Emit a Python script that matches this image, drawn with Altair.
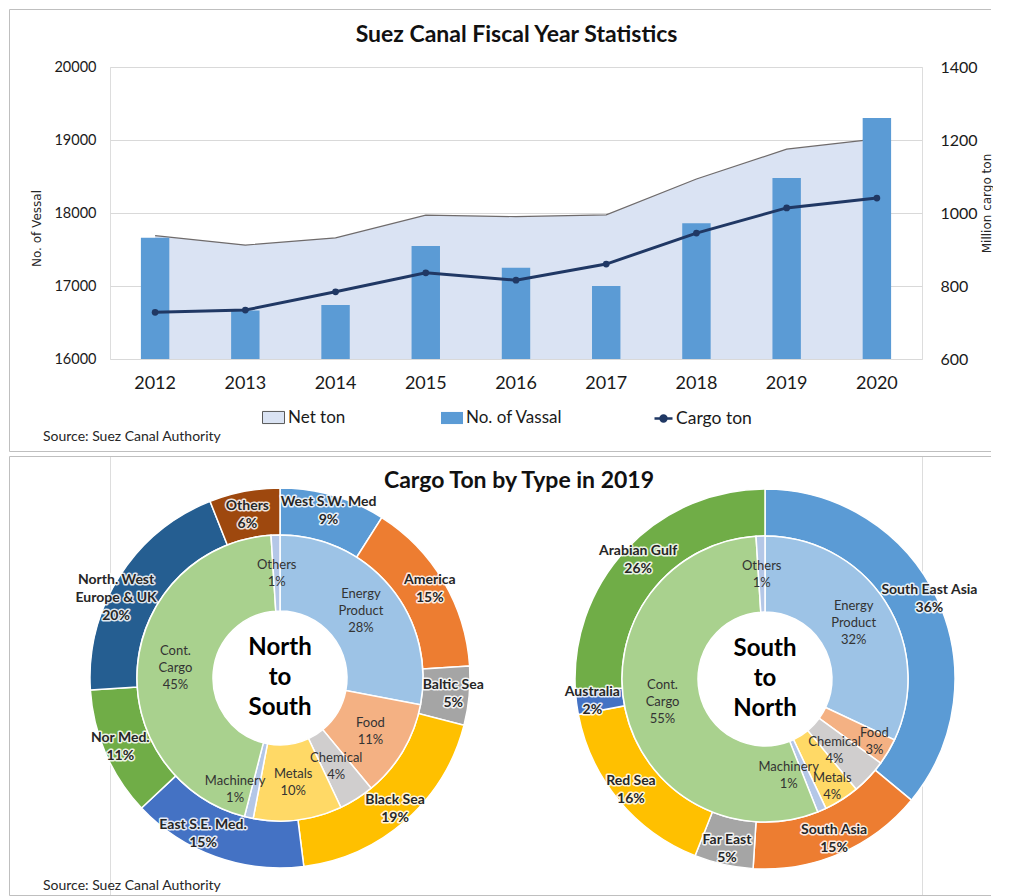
import altair as alt
import pandas as pd

# ---------------- data ----------------
years = ["2012", "2013", "2014", "2015", "2016", "2017", "2018", "2019", "2020"]
vessels = [17662, 16665, 16740, 17548, 17250, 17000, 17860, 18480, 19300]
cargo_ton = [728, 734, 784, 836, 816, 860, 945, 1014, 1041]
net_ton = [938, 912, 932, 994, 990, 995, 1093, 1175, 1203]

ns_region_names = ["West S.W. Med", "America", "Baltic Sea", "Black Sea", "East S.E. Med.",
                   "Nor Med.", "North. West\nEurope & UK", "Others"]
ns_region_pct = [9, 15, 5, 19, 15, 11, 20, 6]
ns_type_names = ["Energy\nProduct", "Food", "Chemical", "Metals", "Machinery", "Cont.\nCargo", "Others"]
ns_type_pct = [28, 11, 4, 10, 1, 45, 1]

sn_region_names = ["South East Asia", "South Asia", "Far East", "Red Sea", "Australia", "Arabian Gulf"]
sn_region_pct = [36, 15, 5, 16, 2, 26]
sn_type_names = ["Energy\nProduct", "Food", "Chemical", "Metals", "Machinery", "Cont.\nCargo", "Others"]
sn_type_pct = [32, 3, 4, 4, 1, 55, 1]

ns_region_colors = ["#5b9bd5", "#ed7d31", "#a5a5a5", "#ffc000", "#4472c4", "#70ad47", "#255e91", "#9e480e"]
sn_region_colors = ["#5b9bd5", "#ed7d31", "#a5a5a5", "#ffc000", "#4472c4", "#70ad47"]
type_colors = ["#9dc3e6", "#f4b183", "#d0cece", "#ffd966", "#b4c7e7", "#a9d18e", "#b4c7e7"]

FONT = "Lato"
TXT = "#1a1a1a"
BORDER = "#bfbfbf"
dummy = pd.DataFrame({"k": [0]})

# layout (pixels relative to each panel's plot origin)
LEFT_EDGE = -100.5
RIGHT_EDGE = 881

# ---------------- top chart ----------------
top_df = pd.DataFrame({"year": years, "vessels": vessels, "cargo": cargo_ton, "net": net_ton})

X = alt.X("year:O",
          scale=alt.Scale(paddingInner=0.685, paddingOuter=0.3425),
          axis=alt.Axis(title=None, labelAngle=0, labelFont=FONT, labelFontSize=18, labelColor=TXT,
                        ticks=False, domain=False, grid=False, labelPadding=15))

right_scale = alt.Scale(domain=[600, 1400], nice=False, zero=False)

area = alt.Chart(top_df).transform_calculate(series="'Net ton'").mark_area(opacity=1).encode(
    x=X,
    y=alt.Y("net:Q", scale=right_scale,
            axis=alt.Axis(orient="right", values=[600, 800, 1000, 1200, 1400], format="d",
                          title="Million cargo ton", titleFont="DejaVu Sans", titleFontSize=12,
                          titleFontWeight="normal", titleColor="#262626", titleAngle=270,
                          titleBaseline="top", titlePadding=4, titleY=136,
                          labelFont=FONT, labelFontSize=16, labelColor=TXT, labelPadding=18,
                          ticks=False, domain=False, grid=False)),
    y2=alt.datum(600),
    color=alt.Color("series:N", scale=alt.Scale(domain=["Net ton"], range=["#dae3f3"]),
                    legend=alt.Legend(orient="none", legendX=152, legendY=339, title=None,
                                      symbolType="M-1,-0.55H1V0.55H-1Z", symbolSize=484,
                                      symbolStrokeColor="#595959", symbolStrokeWidth=1,
                                      labelFont=FONT, labelFontSize=17, labelColor=TXT,
                                      labelOffset=3, padding=0)),
)

net_line = alt.Chart(top_df).mark_line(color="#6f6b6b", strokeWidth=1.2).encode(
    x=X, y=alt.Y("net:Q", scale=right_scale, axis=None))

bars = alt.Chart(top_df).transform_calculate(series="'No. of Vassal'").mark_bar().encode(
    x=X,
    y=alt.Y("vessels:Q", scale=alt.Scale(domain=[16000, 20000], nice=False, zero=False),
            axis=alt.Axis(orient="left", values=[16000, 17000, 18000, 19000, 20000], format="d",
                          title="No. of Vessal", titleFont="DejaVu Sans", titleFontSize=12,
                          titleFontWeight="normal", titleColor="#262626", titlePadding=10, titleY=161,
                          labelFont=FONT, labelFontSize=14.5, labelColor=TXT, labelPadding=14,
                          ticks=False, domain=False, grid=True, gridColor="#d9d9d9", gridWidth=1)),
    y2=alt.datum(16000),
    color=alt.Color("series:N", scale=alt.Scale(domain=["No. of Vassal"], range=["#5b9bd5"]),
                    legend=alt.Legend(orient="none", legendX=330, legendY=339, title=None,
                                      symbolType="M-1,-0.55H1V0.55H-1Z", symbolSize=484,
                                      labelFont=FONT, labelFontSize=17, labelColor=TXT,
                                      labelOffset=2, padding=0)),
)

cargo = alt.Chart(top_df).transform_calculate(series="'Cargo ton'").mark_line(
    strokeWidth=3, point=alt.OverlayMarkDef(filled=True, size=45)).encode(
    x=X,
    y=alt.Y("cargo:Q", scale=right_scale, axis=None),
    color=alt.Color("series:N", scale=alt.Scale(domain=["Cargo ton"], range=["#203864"]),
                    legend=alt.Legend(orient="none", legendX=543, legendY=341, title=None,
                                      symbolType="M-1,0H1M0.33,0A0.33,0.33,0,1,1,-0.33,0A0.33,0.33,0,1,1,0.33,0Z",
                                      symbolSize=324, symbolStrokeWidth=2.5,
                                      symbolFillColor="#203864", symbolStrokeColor="#203864",
                                      labelFont=FONT, labelFontSize=17.5, labelColor=TXT,
                                      labelOffset=2, padding=0)),
)

top_title = alt.Chart(dummy).mark_text(text="Suez Canal Fiscal Year Statistics", font=FONT, fontSize=23,
                                       fontWeight="bold", color="#111111", align="center",
                                       baseline="middle").encode(x=alt.value(406.5), y=alt.value(-32))
top_source = alt.Chart(dummy).mark_text(text="Source: Suez Canal Authority", font=FONT, fontSize=14,
                                        color="#262626", align="left", baseline="middle").encode(
    x=alt.value(-67), y=alt.value(370))

rule = dict(color=BORDER, strokeWidth=1)
top_left = alt.Chart(dummy).mark_rule(**rule).encode(x=alt.value(LEFT_EDGE), y=alt.value(-57.5), y2=alt.value(384.5))
top_top = alt.Chart(dummy).mark_rule(**rule).encode(x=alt.value(LEFT_EDGE), x2=alt.value(RIGHT_EDGE), y=alt.value(-57.5))
top_bottom = alt.Chart(dummy).mark_rule(**rule).encode(x=alt.value(LEFT_EDGE), x2=alt.value(RIGHT_EDGE), y=alt.value(384.5))

top = alt.layer(area, net_line, bars, cargo, top_title, top_source, top_left, top_top, top_bottom).resolve_scale(
    y="independent", color="independent").properties(width=812, height=292)

# ---------------- bottom chart ----------------
THETA = alt.Scale(domain=[0, 100])


def ring_frame(names, pct):
    return pd.DataFrame({"idx": list(range(len(names))), "name": names, "value": pct,
                         "label": [f"{n}\n{p}%" for n, p in zip(names, pct)]})


def ring_arcs(df, colors, cx, cy, r0, r1):
    return alt.Chart(df).mark_arc(innerRadius=r0, outerRadius=r1, stroke="white", strokeWidth=1.5).encode(
        x=alt.value(cx), y=alt.value(cy),
        theta=alt.Theta("value:Q", stack=True, scale=THETA),
        color=alt.Color("name:N", scale=alt.Scale(domain=list(df["name"]), range=colors), legend=None),
        order=alt.Order("idx:Q", sort="ascending"),
    )


def ring_labels(df, cx, cy, radius, nudges, size, lh, bold, halo):
    base = alt.Chart(df).transform_window(
        cum="sum(value)", sort=[alt.SortField("idx", order="ascending")], frame=[None, 0]
    ).transform_calculate(mid="datum.cum - datum.value / 2")
    groups = {}
    for i, (name, lab) in enumerate(zip(df["name"], df["label"])):
        ndx, ndy = nudges.get(name, (0, 0))
        lines = lab.count("\n") + 1
        key = (ndx, ndy - (lines - 1) * lh / 2)
        groups.setdefault(key, []).append(i)
    layers = []
    for (dx, dy), idxs in groups.items():
        sub = base.transform_filter(f"indexof({idxs}, datum.idx) >= 0")
        common = dict(radius=radius, dx=dx, dy=dy, lineBreak="\n", font=FONT, fontSize=size,
                      fontWeight="bold" if bold else "normal", align="center", baseline="middle",
                      lineHeight=lh)
        enc = dict(x=alt.value(cx), y=alt.value(cy),
                   theta=alt.Theta("mid:Q", scale=THETA), text=alt.Text("label:N"))
        if halo:
            layers.append(sub.mark_text(color="white", stroke="white", strokeWidth=3, strokeJoin="round",
                                        opacity=0.85, **common).encode(**enc))
        layers.append(sub.mark_text(color="#262626" if bold else "#333333", **common).encode(**enc))
    return layers


LCX, LCY = 170, 222
RCX, RCY = 655, 223
R_HOLE, R_SPLIT, R_OUT = 67, 143, 190

ns_out = ring_frame(ns_region_names, ns_region_pct)
ns_in = ring_frame(ns_type_names, ns_type_pct)
sn_out = ring_frame(sn_region_names, sn_region_pct)
sn_in = ring_frame(sn_type_names, sn_type_pct)

layers = [
    ring_arcs(ns_out, ns_region_colors, LCX, LCY, R_SPLIT, R_OUT),
    ring_arcs(ns_in, type_colors, LCX, LCY, R_HOLE, R_SPLIT),
    ring_arcs(sn_out, sn_region_colors, RCX, RCY, R_SPLIT, R_OUT),
    ring_arcs(sn_in, type_colors, RCX, RCY, R_HOLE, R_SPLIT),
]
layers += ring_labels(ns_out, LCX, LCY, 174,
                      {"East S.E. Med.": (-18, -8), "North. West\nEurope & UK": (-17, 13), "Others": (0, 8)},
                      14, 18, True, True)
layers += ring_labels(ns_in, LCX, LCY, 105, {"Machinery": (-22, 9)}, 13, 17, False, False)
layers += ring_labels(sn_out, RCX, RCY, 174, {"South East Asia": (7, -6)}, 14, 18, True, True)
layers += ring_labels(sn_in, RCX, RCY, 105,
                      {"Food": (19, 9), "Chemical": (-7, 0), "Metals": (11, 19), "Machinery": (-18, 0)},
                      13, 17, False, False)

center_style = dict(font=FONT, fontSize=24, fontWeight="bold", color="#000000", align="center",
                    baseline="middle", lineBreak="\n", lineHeight=30, dy=-30)
layers.append(alt.Chart(dummy).mark_text(text="North\nto\nSouth", **center_style).encode(
    x=alt.value(LCX), y=alt.value(LCY)))
layers.append(alt.Chart(dummy).mark_text(text="South\nto\nNorth", **center_style).encode(
    x=alt.value(RCX), y=alt.value(RCY)))
layers.append(alt.Chart(dummy).mark_text(text="Cargo Ton by Type in 2019", font=FONT, fontSize=23,
                                         fontWeight="bold", color="#111111", align="center",
                                         baseline="middle").encode(x=alt.value(409), y=alt.value(25)))
layers.append(alt.Chart(dummy).mark_text(text="Source: Suez Canal Authority", font=FONT, fontSize=14,
                                         color="#262626", align="left", baseline="middle").encode(
    x=alt.value(-67), y=alt.value(430)))
layers.append(alt.Chart(dummy).mark_rule(**rule).encode(x=alt.value(LEFT_EDGE), y=alt.value(0.5), y2=alt.value(439.5)))
layers.append(alt.Chart(dummy).mark_rule(**rule).encode(x=alt.value(LEFT_EDGE), x2=alt.value(RIGHT_EDGE), y=alt.value(0.5)))
layers.append(alt.Chart(dummy).mark_rule(**rule).encode(x=alt.value(LEFT_EDGE), x2=alt.value(RIGHT_EDGE), y=alt.value(439.5)))

bottom = alt.layer(*layers).resolve_scale(color="independent").properties(width=812, height=440)

chart = alt.vconcat(top, bottom, spacing=2).properties(padding=0).configure_view(
    strokeWidth=0).configure(font=FONT)

chart.save("out.html", embed_options={"renderer": "svg", "actions": False})
